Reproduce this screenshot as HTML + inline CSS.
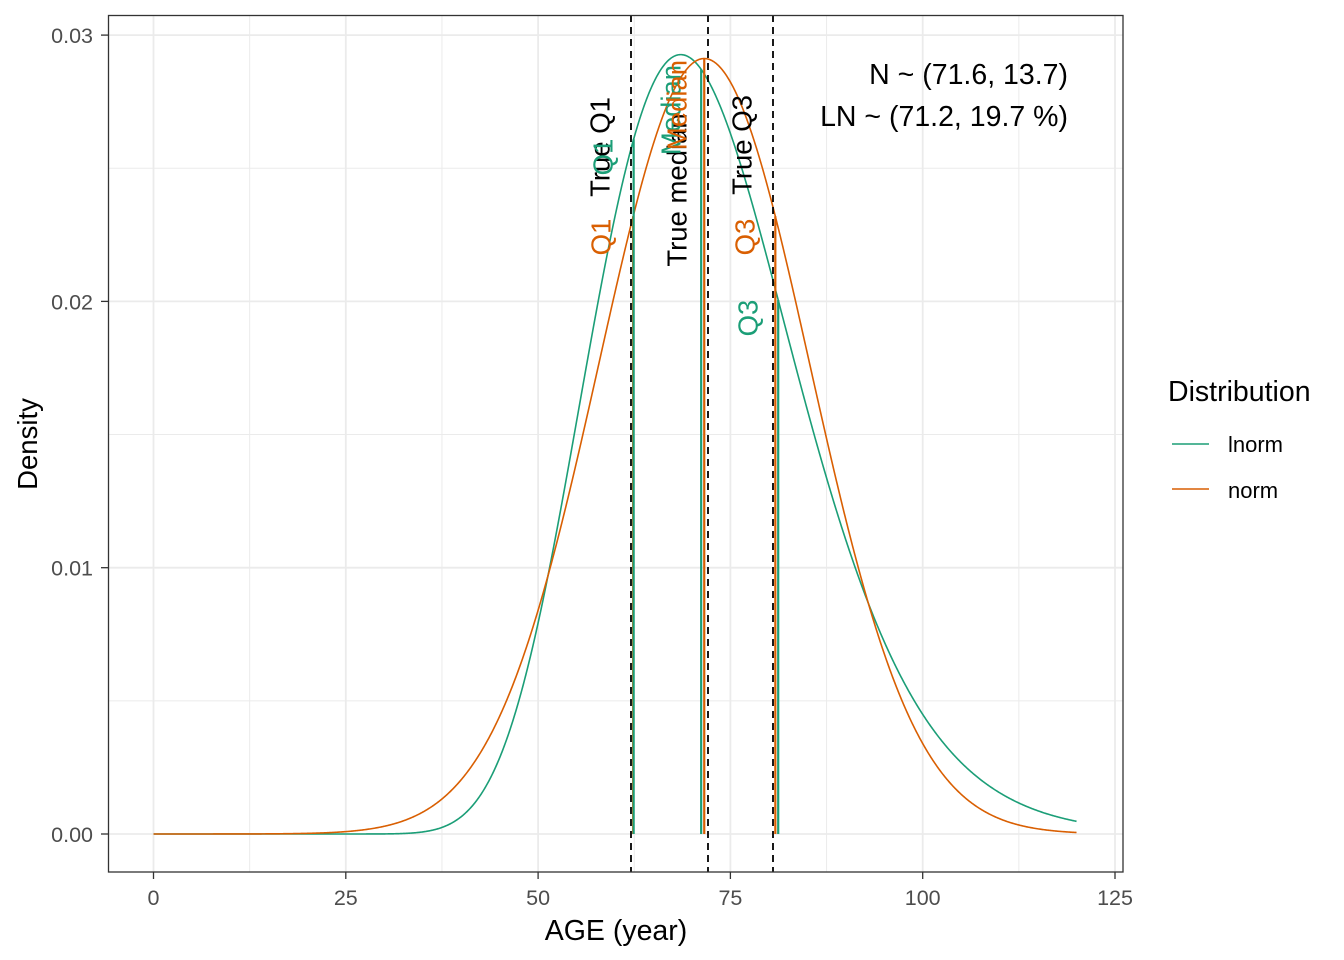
<!DOCTYPE html>
<html><head><meta charset="utf-8"><style>
html,body{margin:0;padding:0;background:#fff}
svg{display:block;font-family:"Liberation Sans",Arial,sans-serif}
</style></head><body>
<svg id="s" width="1344" height="960" viewBox="0 0 1344 960" xmlns="http://www.w3.org/2000/svg">
<rect width="1344" height="960" fill="#fff"/>
<g id="grid" stroke="#ebebeb"></g>
<g id="curves" fill="none" stroke-width="1.6"></g>
<g id="seg" stroke-width="2.2"></g>
<g stroke="#000" stroke-width="1.8" stroke-dasharray="7,5">
<line x1="631" y1="15" x2="631" y2="872"/>
<line x1="708" y1="15" x2="708" y2="872"/>
<line x1="773" y1="15" x2="773" y2="872"/>
</g>
<g font-size="27.5" text-anchor="middle" dominant-baseline="central">
<text transform="translate(600,147) rotate(-90)" fill="#000">True Q1</text>
<text transform="translate(603,157) rotate(-90)" fill="#1b9e77">Q1</text>
<text transform="translate(601,237) rotate(-90)" fill="#d95f02">Q1</text>
<text transform="translate(677,190) rotate(-90)" fill="#000">True median</text>
<text transform="translate(671,110) rotate(-90)" fill="#1b9e77">Median</text>
<text transform="translate(677,105) rotate(-90)" fill="#d95f02">Median</text>
<text transform="translate(742,145) rotate(-90)" fill="#000">True Q3</text>
<text transform="translate(745,237) rotate(-90)" fill="#d95f02">Q3</text>
<text transform="translate(748,318) rotate(-90)" fill="#1b9e77">Q3</text>
</g>
<g font-size="28.5" text-anchor="end" fill="#000">
<text x="1068" y="84">N ~ (71.6, 13.7)</text>
<text x="1068" y="126">LN ~ (71.2, 19.7 %)</text>
</g>
<rect x="108.5" y="15.5" width="1014.5" height="856.5" fill="none" stroke="#333" stroke-width="1.3"/>
<g id="ticks" stroke="#333" stroke-width="1.3"></g>
<g font-size="21.5" fill="#4d4d4d" id="tl"></g>
<text x="616" y="940" font-size="28.5" text-anchor="middle">AGE (year)</text>
<text transform="translate(37,444) rotate(-90)" font-size="27.5" text-anchor="middle">Density</text>
<text x="1168" y="401" font-size="28.5">Distribution</text>
<line x1="1172" y1="444" x2="1209" y2="444" stroke="#1b9e77" stroke-width="1.6"/>
<line x1="1172" y1="489" x2="1209" y2="489" stroke="#d95f02" stroke-width="1.6"/>
<text x="1228" y="452" font-size="22">lnorm</text>
<text x="1228" y="498" font-size="22">norm</text>
</svg>
<script>
var NS="http://www.w3.org/2000/svg";
function X(v){return 153.5+v*7.692;}
function Y(d){return 834-d*26630;}
function el(p,t,a,txt){var e=document.createElementNS(NS,t);for(var k in a)e.setAttribute(k,a[k]);if(txt!=null)e.textContent=txt;document.getElementById(p).appendChild(e);return e;}
[12.5,37.5,62.5,87.5,112.5].forEach(function(v){el("grid","line",{x1:X(v),x2:X(v),y1:15,y2:872,"stroke-width":1});});
[0.005,0.015,0.025].forEach(function(v){el("grid","line",{y1:Y(v),y2:Y(v),x1:108,x2:1123,"stroke-width":1});});
[0,25,50,75,100,125].forEach(function(v){el("grid","line",{x1:X(v),x2:X(v),y1:15,y2:872,"stroke-width":1.8});
 el("ticks","line",{x1:X(v),x2:X(v),y1:872,y2:879});
 el("tl","text",{x:X(v),y:905,"text-anchor":"middle"},String(v));});
[0,0.01,0.02,0.03].forEach(function(v){el("grid","line",{y1:Y(v),y2:Y(v),x1:108,x2:1123,"stroke-width":1.8});
 el("ticks","line",{x1:101,x2:108,y1:Y(v),y2:Y(v)});
 el("tl","text",{x:93,y:Y(v)+8,"text-anchor":"end"},v.toFixed(2));});
var mu=71.6,sd=13.7,ml=Math.log(71.2),sl=Math.sqrt(Math.log(1+0.197*0.197));
function dN(x){return Math.exp(-0.5*Math.pow((x-mu)/sd,2))/(sd*Math.sqrt(2*Math.PI));}
function dL(x){return x>0?Math.exp(-0.5*Math.pow((Math.log(x)-ml)/sl,2))/(x*sl*Math.sqrt(2*Math.PI)):0;}
var pn="",pl="";
for(var i=0;i<=1200;i++){var x=i*0.1;
 pn+=(i?"L":"M")+X(x).toFixed(2)+","+Y(dN(x)).toFixed(2);
 pl+=(i?"L":"M")+X(x).toFixed(2)+","+Y(dL(x)).toFixed(2);}
el("curves","path",{d:pl,stroke:"#1b9e77"});
el("curves","path",{d:pn,stroke:"#d95f02"});
var z=0.6745;
[mu-z*sd,mu,mu+z*sd].forEach(function(q){el("seg","line",{x1:X(q),x2:X(q),y1:834,y2:Y(dN(q)),stroke:"#d95f02"});});
[71.2*Math.exp(-z*sl),71.2,71.2*Math.exp(z*sl)].forEach(function(q){el("seg","line",{x1:X(q),x2:X(q),y1:834,y2:Y(dL(q)),stroke:"#1b9e77"});});
</script>
</body></html>
